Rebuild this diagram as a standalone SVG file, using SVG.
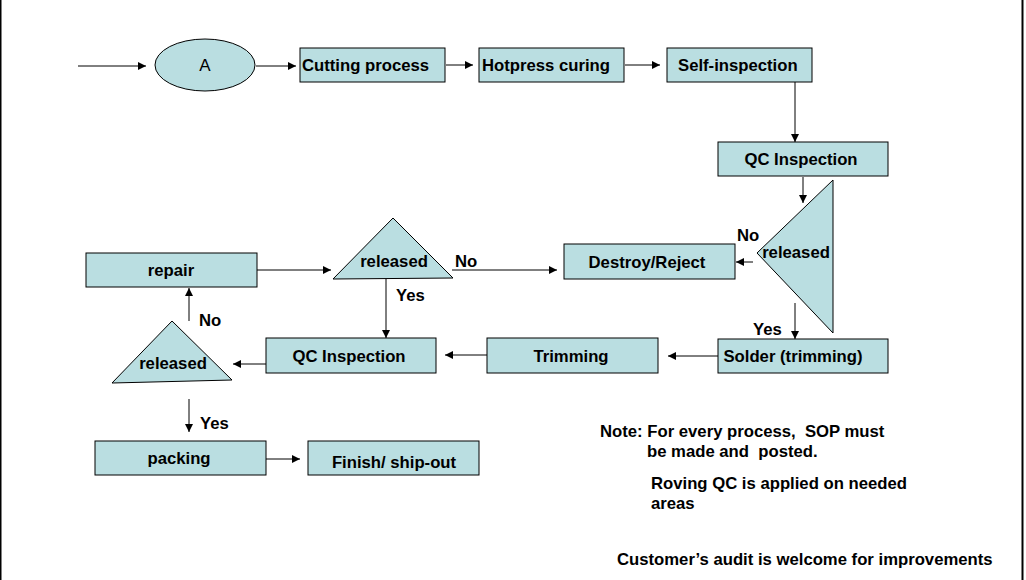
<svg xmlns="http://www.w3.org/2000/svg" width="1026" height="580" viewBox="0 0 1026 580">
<style>
.box{fill:#BADEE1;stroke:#000;stroke-width:1}
.t{font-family:"Liberation Sans",Arial,sans-serif;font-weight:bold;font-size:16.7px;fill:#000}
.c{text-anchor:middle}
.n{font-family:"Liberation Sans",Arial,sans-serif;font-size:17px;fill:#000}
.ln{stroke:#000;stroke-width:1;fill:none;marker-end:url(#ah)}
</style>
<defs>
<marker id="ah" viewBox="0 0 10 10" refX="10" refY="5" markerWidth="9" markerHeight="8" markerUnits="userSpaceOnUse" orient="auto">
<path d="M0,0 L10,5 L0,10 z" fill="#000"/>
</marker>
</defs>
<rect x="0" y="0" width="1026" height="580" fill="#fff"/>
<line x1="0.5" y1="0" x2="0.5" y2="580" stroke="#000" stroke-width="2"/>
<line x1="1022.5" y1="0" x2="1022.5" y2="580" stroke="#000" stroke-width="2"/>

<g id="connectors">
<line class="ln" x1="78" y1="66" x2="146" y2="66"/>
<line class="ln" x1="256" y1="66" x2="296" y2="66"/>
<line class="ln" x1="446" y1="65" x2="473" y2="65"/>
<line class="ln" x1="625" y1="65" x2="660" y2="65"/>
<line class="ln" x1="795" y1="82" x2="795" y2="142"/>
<line class="ln" x1="803" y1="177" x2="803" y2="203"/>
<line class="ln" x1="753" y1="262" x2="736" y2="262"/>
<line class="ln" x1="795" y1="303" x2="795" y2="339"/>
<line class="ln" x1="718" y1="356" x2="668" y2="356"/>
<line class="ln" x1="487" y1="355" x2="445" y2="355"/>
<line class="ln" x1="266" y1="364" x2="233" y2="364"/>
<line class="ln" x1="189" y1="321" x2="189" y2="288"/>
<line class="ln" x1="257" y1="270" x2="331" y2="270"/>
<line class="ln" x1="452" y1="270" x2="557" y2="270"/>
<line class="ln" x1="386" y1="279" x2="386" y2="338"/>
<line class="ln" x1="189" y1="399" x2="189" y2="432"/>
<line class="ln" x1="266" y1="459" x2="300" y2="459"/>
</g>

<g id="nodeA"><ellipse class="box" cx="205" cy="65" rx="50" ry="26"/><text class="n c" x="205" y="71">A</text></g>
<g id="cutting"><rect class="box" x="300" y="48" width="145" height="34"/><text class="t" x="302" y="71">Cutting process</text></g>
<g id="hotpress"><rect class="box" x="479" y="48" width="145" height="34"/><text class="t" x="482" y="71">Hotpress curing</text></g>
<g id="selfinsp"><rect class="box" x="667" y="48" width="145" height="34"/><text class="t" x="678" y="71">Self-inspection</text></g>
<g id="qc1"><rect class="box" x="718" y="142" width="170" height="34"/><text class="t c" x="801" y="165">QC Inspection</text></g>
<g id="released1"><polygon class="box" points="833,180 833,333 757,253"/><text class="t c" x="796" y="258">released</text>
<text class="t" x="737" y="241">No</text><text class="t" x="753" y="335">Yes</text></g>
<g id="destroy"><rect class="box" x="564" y="244" width="171" height="35"/><text class="t c" x="647" y="268">Destroy/Reject</text></g>
<g id="solder"><rect class="box" x="718" y="339" width="170" height="34"/><text class="t c" x="793" y="362">Solder (trimming)</text></g>
<g id="trimming"><rect class="box" x="487" y="338" width="171" height="35"/><text class="t c" x="571" y="362">Trimming</text></g>
<g id="qc2"><rect class="box" x="266" y="338" width="170" height="35"/><text class="t c" x="349" y="362">QC Inspection</text></g>
<g id="released3"><polygon class="box" points="172,321 232,380 112,383"/><text class="t c" x="173" y="369">released</text>
<text class="t" x="199" y="326">No</text><text class="t" x="200" y="429">Yes</text></g>
<g id="repair"><rect class="box" x="86" y="253" width="171" height="34"/><text class="t c" x="171" y="276">repair</text></g>
<g id="released2"><polygon class="box" points="393,218 453,278 333,279"/><text class="t c" x="394" y="267">released</text>
<text class="t" x="455" y="267">No</text><text class="t" x="396" y="301">Yes</text></g>
<g id="packing"><rect class="box" x="95" y="441" width="171" height="34"/><text class="t c" x="179" y="464">packing</text></g>
<g id="finish"><rect class="box" x="308" y="441" width="171" height="34"/><text class="t c" x="394" y="468">Finish/ ship-out</text></g>

<g id="notes">
<text class="t" x="600" y="437" xml:space="preserve">Note: For every process,  SOP must</text>
<text class="t" x="647" y="457" xml:space="preserve">be made and  posted.</text>
<text class="t" x="651" y="489">Roving QC is applied on needed</text>
<text class="t" x="651" y="509">areas</text>
<text class="t" x="617" y="565">Customer’s audit is welcome for improvements</text>
</g>
</svg>
